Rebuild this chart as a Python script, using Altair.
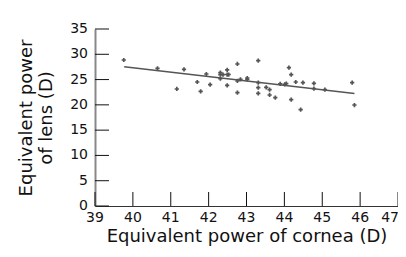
import altair as alt
import pandas as pd

# Equivalent power of cornea (D)
cornea = [39.76, 40.65, 41.16, 41.35, 41.70, 41.79, 41.94, 42.04, 42.31, 42.38,
          42.31, 42.31, 42.49, 42.49, 42.53, 42.49, 42.76, 42.76, 42.76, 42.84,
          43.02, 43.02, 43.31, 43.31, 43.31, 43.31, 43.52, 43.61, 43.61, 43.76,
          43.89, 44.01, 44.05, 44.12, 44.18, 44.18, 44.30, 44.43, 44.49, 44.78,
          44.78, 45.07, 45.79, 45.85]
# Equivalent power of lens (D)
lens = [28.87, 27.22, 23.14, 27.03, 24.52, 22.68, 26.10, 23.99, 26.37, 25.97,
        25.96, 25.17, 26.90, 26.00, 26.00, 23.86, 28.08, 24.72, 22.41, 25.05,
        25.31, 25.05, 28.74, 24.39, 23.40, 22.28, 23.47, 23.01, 21.95, 21.42,
        24.13, 24.06, 24.19, 27.36, 25.96, 21.03, 24.52, 19.05, 24.39, 24.26,
        23.20, 23.01, 24.39, 19.97]

fit_x = [39.77, 45.85]
fit_y = [27.52, 22.26]

x_ticks = [39, 40, 41, 42, 43, 44, 45, 46, 47]
y_ticks = [0, 5, 10, 15, 20, 25, 30, 35]

pts = pd.DataFrame({"x": cornea, "y": lens})
fit = pd.DataFrame({"x": fit_x, "y": fit_y})
xt = pd.DataFrame({"x": x_ticks, "label": [str(v) for v in x_ticks]})
yt = pd.DataFrame({"y": y_ticks, "label": [str(v) for v in y_ticks]})
xt_inner = xt.iloc[:-1]
xt_last = xt.iloc[-1:]

W, H = 303, 177
TICK = 14

xscale = alt.Scale(domain=[39, 47], nice=False, zero=False)
yscale = alt.Scale(domain=[0, 35], nice=False)

xaxis = alt.Axis(values=x_ticks, tickSize=0, labels=False, grid=False,
                 domainColor="#333", domainWidth=1,
                 title="Equivalent power of cornea (D)", titleFontSize=18,
                 titleFontWeight="normal", titleColor="#111", titlePadding=21)
yaxis = alt.Axis(values=y_ticks, tickSize=0, labels=False, grid=False,
                 domainColor="#888", domainWidth=2,
                 title=["Equivalent power", "of lens (D)"], titleFontSize=18,
                 titleFontWeight="normal", titleColor="#111", titlePadding=39,
                 titleLineHeight=20)

points = alt.Chart(pts).mark_point(shape="cross", filled=True, size=18,
                                   color="#555", opacity=1).encode(
    x=alt.X("x:Q", scale=xscale, axis=xaxis),
    y=alt.Y("y:Q", scale=yscale, axis=yaxis),
)

line = alt.Chart(fit).mark_line(color="#555", strokeWidth=1.5).encode(
    x="x:Q", y="y:Q"
)

xticks = alt.Chart(xt).mark_rule(color="#111", strokeWidth=1).encode(
    x="x:Q", y=alt.value(H - TICK), y2=alt.value(H)
)
yticks = alt.Chart(yt).mark_rule(color="#111", strokeWidth=1).encode(
    y="y:Q", x=alt.value(0), x2=alt.value(TICK)
)

xlabels = alt.Chart(xt_inner).mark_text(fontSize=14, color="#111", align="center",
                                        baseline="top").encode(
    x="x:Q", y=alt.value(H + 5), text="label:N"
)
xlabel_last = alt.Chart(xt_last).mark_text(fontSize=14, color="#111", align="right",
                                           baseline="top", dx=1).encode(
    x="x:Q", y=alt.value(H + 5), text="label:N"
)
ylabels = alt.Chart(yt).mark_text(fontSize=14, color="#111", align="right",
                                  baseline="middle").encode(
    y="y:Q", x=alt.value(-7), text="label:N"
)

chart = alt.layer(points, line, xticks, yticks, xlabels, xlabel_last, ylabels).properties(
    width=W, height=H,
    autosize=alt.AutoSizeParams(type="none"),
    padding={"left": 87, "top": 21, "right": 0, "bottom": 43},
).configure(font="DejaVu Sans").configure_view(stroke=None)

chart.save("out.html", embed_options={"renderer": "svg", "actions": False})
